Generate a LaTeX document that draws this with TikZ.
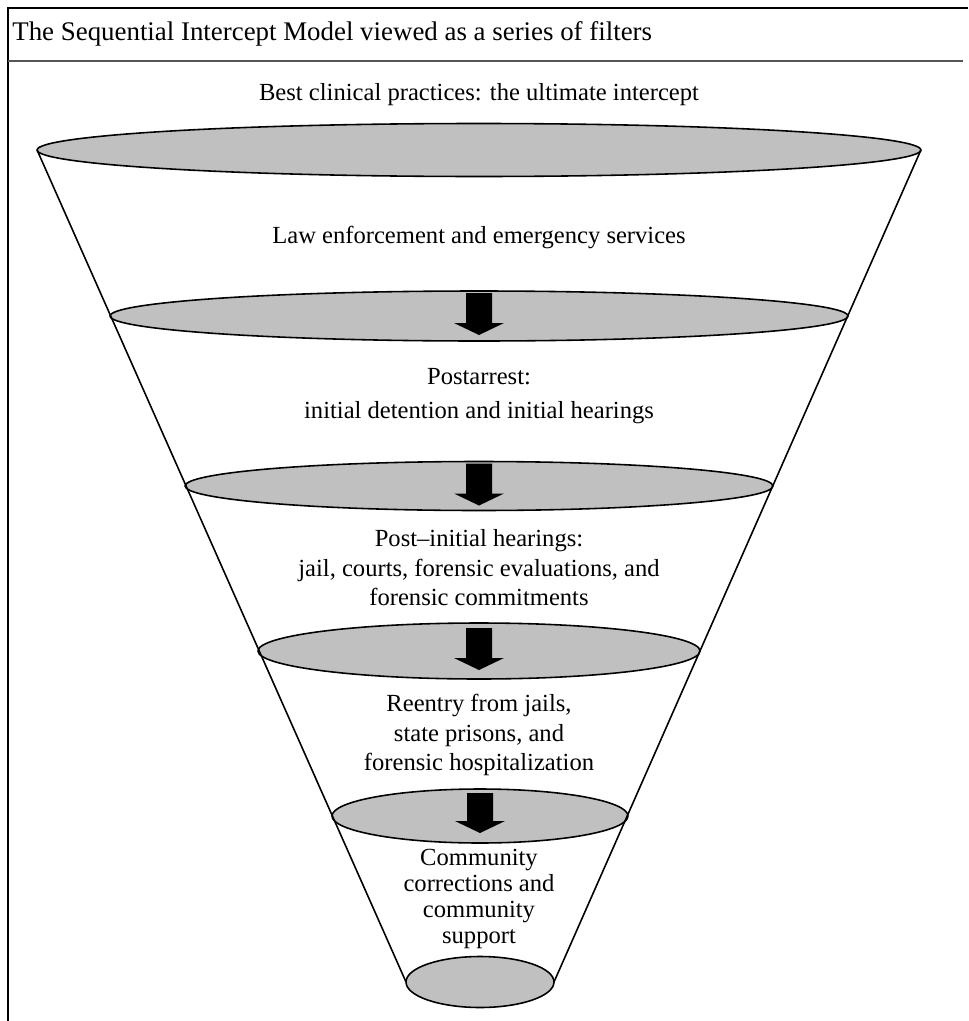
\documentclass[tikz,border=0pt]{standalone}
\usepackage{fontspec}
\setmainfont{Liberation Serif}
\usetikzlibrary{shapes.geometric}

\begin{document}
\begin{tikzpicture}[x=0.02cm, y=-0.02cm,
  filter/.style={draw, ellipse, fill=filtergray, inner sep=0pt, outer sep=0pt, line width=0.9pt},
  stage/.style={align=center, font=\fontsize{14}{16.8}\selectfont, inner sep=0pt}]
\definecolor{filtergray}{HTML}{C0C0C0}
\definecolor{rulegray}{HTML}{555555}
\useasboundingbox (0,0) rectangle (968,1021);

% frame and heading
\draw[line width=1.3pt] (8,1021) -- (8,8) -- (968,8);
\draw[rulegray, line width=1pt] (8,61) -- (963,61);
\node[anchor=west, font=\fontsize{15.3}{18}\selectfont, inner sep=0pt] (title) at (12,34) {The Sequential Intercept Model viewed as a series of filters};

% the filters
\node[filter, minimum width=17.68cm, minimum height=1.06cm] (f1) at (479,150) {};
\node[filter, minimum width=14.76cm, minimum height=1.00cm] (f2) at (479,316) {};
\node[filter, minimum width=11.76cm, minimum height=0.98cm] (f3) at (479,486) {};
\node[filter, minimum width=8.84cm, minimum height=1.12cm] (f4) at (479,651) {};
\node[filter, minimum width=5.92cm, minimum height=1.08cm] (f5) at (480,816) {};
\node[filter, minimum width=2.96cm, minimum height=1.02cm] (f6) at (480,982) {};

\draw[line width=0.9pt] (f1.west) -- (f6.west);
\draw[line width=0.9pt] (f1.east) -- (f6.east);

% arrows between the filters
\fill ([yshift=-0.04cm]f2.north) ++(-13,0) -- ++(0,30) -- ++(-12,0) -- ++(25,12) -- ++(25,-12) -- ++(-12,0) -- ++(0,-30) -- cycle;
\fill ([yshift=-0.04cm]f3.north) ++(-13,0) -- ++(0,30) -- ++(-12,0) -- ++(25,12) -- ++(25,-12) -- ++(-12,0) -- ++(0,-30) -- cycle;
\fill ([yshift=-0.10cm]f4.north) ++(-13,0) -- ++(0,30) -- ++(-12,0) -- ++(25,12) -- ++(25,-12) -- ++(-12,0) -- ++(0,-30) -- cycle;
\fill ([yshift=-0.08cm]f5.north) ++(-13,0) -- ++(0,28) -- ++(-12,0) -- ++(25,12) -- ++(25,-12) -- ++(-12,0) -- ++(0,-28) -- cycle;

% stage texts
\node[stage] (t0) at (479,95) {Best clinical practices: the ultimate intercept};
\node[stage] (t1) at (479,237) {Law enforcement and emergency services};
\node[stage, font=\fontsize{14}{19.5}\selectfont] (t2) at (479,396) {Postarrest:\\initial detention and initial hearings};
\node[stage] (t3) at (479,568) {Post–initial hearings:\\jail, courts, forensic evaluations, and\\forensic commitments};
\node[stage] (t4) at (479,735) {Reentry from jails,\\state prisons, and\\forensic hospitalization};
\node[stage, font=\fontsize{14}{14.7}\selectfont] (t5) at (479,899) {Community\\corrections and\\community\\support};

\end{tikzpicture}
\end{document}
